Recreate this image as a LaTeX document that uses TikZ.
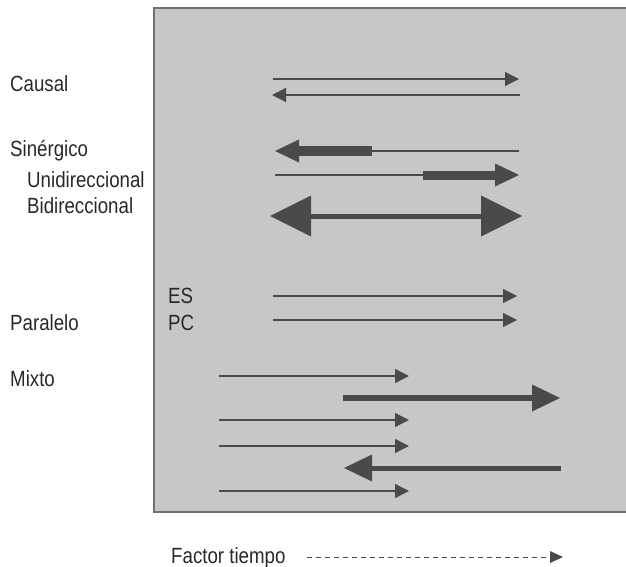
\documentclass[tikz,border=0pt]{standalone}
\usepackage{fontspec}
\setmainfont{Liberation Sans}[FakeStretch=0.85]
\usetikzlibrary{arrows.meta}

\definecolor{panelgray}{RGB}{198,199,201}
\definecolor{framegray}{RGB}{112,112,114}
\definecolor{arrowgray}{RGB}{74,74,76}
\definecolor{textgray}{RGB}{40,40,42}

\tikzset{
    lbl/.style={anchor=base west, inner sep=0pt, text=textgray, font=\fontsize{22}{25}\selectfont},
    thin/.style={draw=arrowgray, line width=1.3pt},
    thinhead/.style={thin, -{Triangle[length=14pt, width=14pt]}},
    fathead/.style={draw=arrowgray, line width=9pt, -{Triangle[length=24pt, width=23pt, line width=0pt]}},
}

\begin{document}
\begin{tikzpicture}[x=1pt, y=-1pt]
        \useasboundingbox (0,0) rectangle (626,567);

        % panel
        \fill[panelgray] (154,8) rectangle (640,512);
        \draw[framegray, line width=1.6pt] (640,8) -- (154,8) -- (154,512) -- (640,512);

        % Labels
        \node[lbl] at (10, 92)  (causal)  {Causal};
        \node[lbl] at (10, 157) (sinerg)  {Sinérgico};
        \node[lbl] at (27, 187) (unidir)  {Unidireccional};
        \node[lbl] at (27, 213) (bidir)   {Bidireccional};
        \node[lbl] at (168, 303) (es)     {ES};
        \node[lbl] at (168, 330) (pc)     {PC};
        \node[lbl] at (10, 330) (paral)   {Paralelo};
        \node[lbl] at (10, 386) (mixto)   {Mixto};
        \node[lbl] at (171, 563) (tiempo) {Factor tiempo};

        % Causal
        \coordinate (c1a) at (273, 79);  \coordinate (c1b) at (519, 79);
        \coordinate (c2a) at (520, 95);  \coordinate (c2b) at (272, 95);
        \draw[thinhead] (c1a) -- (c1b);
        \draw[thinhead] (c2a) -- (c2b);

        % Sinergico, unidireccional
        \coordinate (s1a) at (519, 151); \coordinate (s1m) at (372, 151); \coordinate (s1b) at (275, 151);
        \coordinate (s2a) at (275, 175); \coordinate (s2m) at (423, 175); \coordinate (s2b) at (519, 175);
        \draw[thin] (s1a) -- (s1m);
        \draw[fathead, line width=10pt] (s1m) -- (s1b);
        \draw[thin] (s2a) -- (s2m);
        \draw[fathead] (s2m) -- (s2b);

        % Sinergico, bidireccional
        \coordinate (b1a) at (270, 216); \coordinate (b1b) at (522, 216);
        \draw[draw=arrowgray, line width=5pt,
              {Triangle[length=41pt, width=41pt, line width=0pt]}-{Triangle[length=41pt, width=41pt, line width=0pt]}]
              (b1a) -- (b1b);

        % Paralelo
        \coordinate (p1a) at (273, 296); \coordinate (p1b) at (517, 296);
        \coordinate (p2a) at (273, 320); \coordinate (p2b) at (517, 320);
        \draw[thinhead] (p1a) -- (p1b);
        \draw[thinhead] (p2a) -- (p2b);

        % Mixto
        \coordinate (m1a) at (219, 376); \coordinate (m1b) at (409, 376);
        \coordinate (m2a) at (343, 398); \coordinate (m2b) at (560, 398);
        \coordinate (m3a) at (219, 420); \coordinate (m3b) at (409, 420);
        \coordinate (m4a) at (219, 446); \coordinate (m4b) at (409, 446);
        \coordinate (m5a) at (561, 468); \coordinate (m5b) at (344, 468);
        \coordinate (m6a) at (219, 491); \coordinate (m6b) at (409, 491);
        \draw[thinhead] (m1a) -- (m1b);
        \draw[draw=arrowgray, line width=6pt, -{Triangle[length=28pt, width=27pt, line width=0pt]}] (m2a) -- (m2b);
        \draw[thinhead] (m3a) -- (m3b);
        \draw[thinhead] (m4a) -- (m4b);
        \draw[draw=arrowgray, line width=5pt, -{Triangle[length=28pt, width=27pt, line width=0pt]}] (m5a) -- (m5b);
        \draw[thinhead] (m6a) -- (m6b);

        % Factor tiempo
        \coordinate (t0) at (307, 557);
        \coordinate (t1) at (563, 557);
        \draw[draw=arrowgray, line width=1pt, dash pattern=on 5pt off 4pt,
              -{Triangle[length=13pt, width=12pt, line width=0pt]}] (t0) -- (t1);

    \end{tikzpicture}
\end{document}
